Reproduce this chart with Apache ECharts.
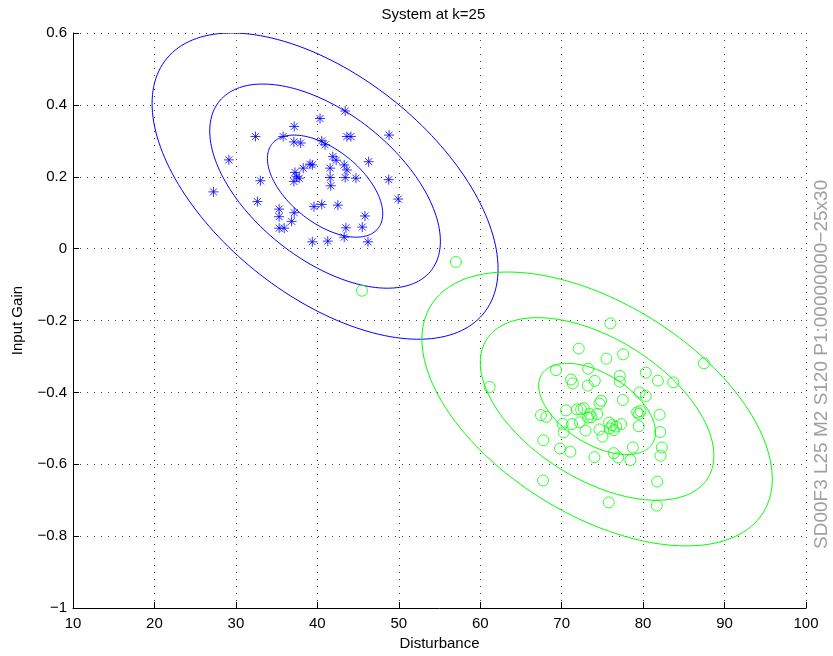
<!DOCTYPE html>
<html>
<head>
<meta charset="utf-8">
<script src="https://cdn.jsdelivr.net/npm/echarts@6/dist/echarts.min.js"></script>
<style>
html,body{margin:0;padding:0;background:#fff;}
#chart{width:833px;height:656px;}
</style>
</head>
<body>
<div id="chart"></div>
<script>
// ---- Data ----
const titleText = 'System at k=25';
const xAxisName = 'Disturbance';
const yAxisName = 'Input Gain';
const sideText = 'SD00F3 L25 M2 S120 P1:00000000\u221225x30';

const xTickLabels = ['10','20','30','40','50','60','70','80','90','100'];
const yTickLabels = ['\u22121','\u22120.8','\u22120.6','\u22120.4','\u22120.2','0','0.2','0.4','0.6'];

// Blue class (asterisks)
const blueX = [43.42,40.33,37.16,32.40,35.80,37.12,37.95,40.54,40.95,43.63,44.12,48.81,
  29.14,41.90,42.31,43.30,43.63,46.30,41.57,39.10,39.38,38.27,37.25,37.46,37.78,37.12,
  41.57,41.65,43.42,44.74,48.77,33.01,27.25,49.93,32.64,39.59,40.54,42.52,35.31,35.31,
  37.16,36.84,35.31,35.93,45.85,45.52,43.51,43.30,39.38,41.28,46.22];
const blueY = [0.383,0.362,0.340,0.312,0.312,0.297,0.294,0.300,0.289,0.312,0.312,0.316,
  0.247,0.256,0.246,0.233,0.219,0.242,0.224,0.235,0.233,0.224,0.212,0.200,0.196,0.187,
  0.198,0.175,0.198,0.196,0.192,0.189,0.158,0.138,0.131,0.117,0.123,0.121,0.110,0.089,
  0.100,0.076,0.057,0.057,0.091,0.060,0.058,0.032,0.019,0.021,0.019];

// Green class (circles)
const greenX = [57.01,45.48,75.99,87.47,72.09,75.50,77.55,69.31,73.25,77.14,77.14,80.33,
  81.81,83.70,71.15,71.36,73.20,74.06,61.15,79.56,80.33,77.50,74.84,74.64,71.89,72.39,
  72.71,70.54,67.46,68.12,73.44,74.35,73.65,73.25,79.27,79.68,79.47,82.02,70.12,71.28,
  72.21,75.83,76.20,77.30,76.69,75.90,76.40,74.64,72.92,70.25,75.01,79.47,82.10,67.75,
  69.80,71.07,74.02,76.40,76.94,78.45,78.74,82.30,82.14,67.71,81.73,75.78,81.68];
const greenY = [-0.037,-0.117,-0.208,-0.319,-0.278,-0.306,-0.294,-0.338,-0.334,-0.354,-0.370,-0.345,
  -0.367,-0.372,-0.364,-0.375,-0.381,-0.368,-0.385,-0.400,-0.410,-0.421,-0.423,-0.431,-0.447,-0.447,
  -0.444,-0.450,-0.463,-0.468,-0.460,-0.460,-0.469,-0.470,-0.455,-0.452,-0.460,-0.462,-0.488,-0.488,
  -0.483,-0.484,-0.491,-0.488,-0.495,-0.500,-0.505,-0.503,-0.506,-0.511,-0.523,-0.494,-0.510,-0.533,
  -0.556,-0.565,-0.580,-0.569,-0.581,-0.588,-0.553,-0.553,-0.576,-0.645,-0.648,-0.706,-0.715];

// Gaussian contour parameters: [centerX, centerY, sigmaX, sigmaY, rho]
const blueGauss = [40.95, 0.174, 7.08, 0.142, -0.54];
const greenGauss = [74.35, -0.446, 7.17, 0.127, -0.51];
const contourLevels = [1, 2, 3];

const BLUE = '#0000ff';
const GREEN = '#00ff00';

function zip(a, b) { return a.map((v, i) => [v, b[i]]); }
function ellipseData(g) { return contourLevels.map(k => [g[0], g[1], g[2], g[3], g[4], k]); }

function ellipseSeries(g, color) {
  return {
    type: 'custom',
    clip: true,
    silent: true,
    encode: { x: 0, y: 1 },
    data: ellipseData(g),
    renderItem: function (params, api) {
      const cx = api.value(0), cy = api.value(1), sx = api.value(2), sy = api.value(3),
            r = api.value(4), k = api.value(5);
      const pts = [];
      const n = 180;
      const q = Math.sqrt(1 - r * r);
      for (let i = 0; i <= n; i++) {
        const t = 2 * Math.PI * i / n;
        const c = Math.cos(t), s = Math.sin(t);
        pts.push(api.coord([cx + k * sx * c, cy + k * sy * (r * c + q * s)]));
      }
      return { type: 'polyline', shape: { points: pts }, style: { stroke: color, fill: null, lineWidth: 1 } };
    }
  };
}

const FONT = 'Liberation Sans, Arial, Helvetica, sans-serif';

const chart = echarts.init(document.getElementById('chart'), null, { renderer: 'canvas' });
const gridL = 73, gridT = 33, gridW = 733, gridH = 578;

chart.setOption({
  animation: false,
  backgroundColor: '#ffffff',
  grid: { left: gridL, top: gridT, width: gridW, height: gridH, containLabel: false },
  xAxis: {
    type: 'value', min: 10, max: 100, interval: 10,
    name: xAxisName, nameLocation: 'middle', nameGap: 27,
    nameTextStyle: { color: '#000', fontSize: 15, fontFamily: FONT },
    axisLine: { show: true, onZero: false, lineStyle: { color: '#000', width: 1 } },
    axisTick: { show: true, inside: true, length: 6, lineStyle: { color: '#000' } },
    axisLabel: { color: '#000', fontSize: 15, fontFamily: FONT, margin: 8,
      formatter: (v) => xTickLabels[Math.round((v - 10) / 10)] },
    splitLine: { show: true, lineStyle: { color: '#444', type: [1, 6], width: 1 } }
  },
  yAxis: {
    type: 'value', min: -1, max: 0.6, interval: 0.2,
    name: yAxisName, nameLocation: 'middle', nameGap: 48, nameRotate: 90,
    nameTextStyle: { color: '#000', fontSize: 15, fontFamily: FONT },
    axisLine: { show: true, onZero: false, lineStyle: { color: '#000', width: 1 } },
    axisTick: { show: true, inside: true, length: 6, lineStyle: { color: '#000' } },
    axisLabel: { color: '#000', fontSize: 15, fontFamily: FONT, margin: 6,
      formatter: (v) => yTickLabels[Math.round((v + 1) / 0.2)] },
    splitLine: { show: true, lineStyle: { color: '#444', type: [1, 6], width: 1 } }
  },
  graphic: [
    { type: 'text', left: gridL + gridW / 2 - 58, top: 7,
      style: { text: titleText, fill: '#000', font: '15px ' + FONT } },
    { type: 'text', x: 812, y: 549, rotation: Math.PI / 2,
      style: { text: sideText, fill: '#a0a0a0', font: '19px ' + FONT, textVerticalAlign: 'top' } }
  ],
  series: [
    ellipseSeries(blueGauss, BLUE),
    ellipseSeries(greenGauss, GREEN),
    {
      type: 'scatter', data: zip(blueX, blueY), symbolSize: 10,
      symbol: 'path://M0,5L10,5M5,0L5,10M1.5,1.5L8.5,8.5M1.5,8.5L8.5,1.5',
      itemStyle: { color: 'transparent', borderColor: BLUE, borderWidth: 1 }
    },
    {
      type: 'scatter', data: zip(greenX, greenY), symbol: 'circle', symbolSize: 11,
      itemStyle: { color: 'transparent', borderColor: GREEN, borderWidth: 1 }
    }
  ]
});
</script>
</body>
</html>
